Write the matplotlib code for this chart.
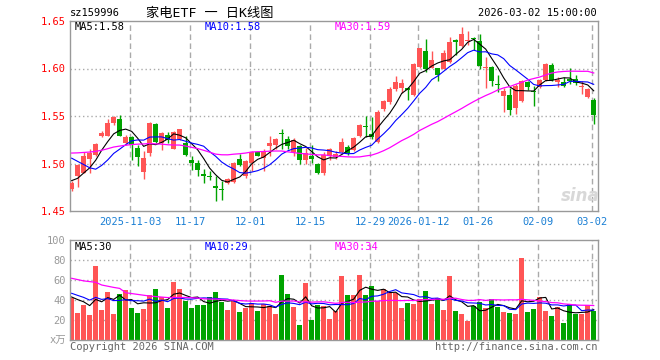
import pandas as pd
import matplotlib.pyplot as plt

# daily K-line data, 2025-10-20 .. 2026-03-02 (88 trading days)
opens = [1.473, 1.487, 1.490, 1.505, 1.509, 1.529, 1.529, 1.543, 1.547, 1.522,
         1.528, 1.516, 1.491, 1.511, 1.542, 1.522, 1.530, 1.515, 1.526, 1.522,
         1.504, 1.500, 1.489, 1.486, 1.476, 1.473, 1.480, 1.481, 1.505, 1.487,
         1.501, 1.512, 1.506, 1.518, 1.519, 1.532, 1.526, 1.512, 1.518, 1.504,
         1.508, 1.500, 1.490, 1.508, 1.507, 1.512, 1.517, 1.514, 1.529, 1.5395,
         1.531, 1.523, 1.557, 1.565, 1.578, 1.580, 1.580, 1.572, 1.602, 1.618,
         1.601, 1.600, 1.600, 1.607, 1.6295, 1.624, 1.6285, 1.6325, 1.629, 1.601,
         1.602, 1.5835, 1.571, 1.572, 1.558, 1.566, 1.586, 1.5765, 1.581, 1.588,
         1.604, 1.5855, 1.586, 1.5885, 1.589, 1.5805, 1.5705, 1.567]
closes = [1.479, 1.498, 1.508, 1.511, 1.521, 1.532, 1.543, 1.549, 1.529, 1.528,
          1.520, 1.507, 1.506, 1.543, 1.523, 1.532, 1.525, 1.533, 1.536, 1.509,
          1.501, 1.493, 1.487, 1.4855, 1.474, 1.472, 1.484, 1.501, 1.498, 1.503,
          1.512, 1.508, 1.513, 1.522, 1.526, 1.5315, 1.518, 1.525, 1.504, 1.511,
          1.505, 1.490, 1.509, 1.515, 1.510, 1.523, 1.511, 1.527, 1.541, 1.5385,
          1.528, 1.554, 1.566, 1.578, 1.586, 1.585, 1.577, 1.605, 1.622, 1.600,
          1.609, 1.593, 1.616, 1.628, 1.628, 1.636, 1.630, 1.631, 1.603, 1.602,
          1.587, 1.5825, 1.576, 1.556, 1.582, 1.587, 1.581, 1.5755, 1.588, 1.605,
          1.588, 1.588, 1.582, 1.587, 1.5845, 1.5815, 1.5785, 1.551]
highs = [1.482, 1.499, 1.512, 1.515, 1.522, 1.534, 1.547, 1.550, 1.551, 1.530,
         1.529, 1.519, 1.513, 1.544, 1.543, 1.533, 1.533, 1.534, 1.536, 1.529,
         1.508, 1.504, 1.494, 1.492, 1.487, 1.482, 1.485, 1.502, 1.510, 1.504,
         1.513, 1.513, 1.515, 1.529, 1.527, 1.536, 1.529, 1.527, 1.519, 1.516,
         1.519, 1.501, 1.512, 1.516, 1.513, 1.527, 1.519, 1.528, 1.542, 1.550,
         1.549, 1.556, 1.567, 1.581, 1.592, 1.589, 1.581, 1.606, 1.622, 1.631,
         1.618, 1.601, 1.619, 1.633, 1.631, 1.644, 1.640, 1.633, 1.636, 1.612,
         1.603, 1.593, 1.580, 1.579, 1.584, 1.588, 1.587, 1.582, 1.589, 1.606,
         1.606, 1.591, 1.591, 1.601, 1.593, 1.587, 1.580, 1.569]
lows = [1.471, 1.475, 1.490, 1.490, 1.508, 1.528, 1.529, 1.541, 1.529, 1.520,
        1.504, 1.497, 1.484, 1.508, 1.522, 1.514, 1.522, 1.515, 1.525, 1.508,
        1.493, 1.487, 1.480, 1.483, 1.461, 1.462, 1.478, 1.479, 1.497, 1.485,
        1.492, 1.508, 1.492, 1.508, 1.515, 1.515, 1.515, 1.508, 1.500, 1.500,
        1.501, 1.489, 1.488, 1.504, 1.505, 1.511, 1.509, 1.513, 1.528, 1.528,
        1.526, 1.522, 1.555, 1.563, 1.576, 1.574, 1.567, 1.571, 1.601, 1.596,
        1.601, 1.587, 1.599, 1.606, 1.614, 1.623, 1.625, 1.619, 1.600, 1.580,
        1.582, 1.575, 1.554, 1.551, 1.552, 1.565, 1.577, 1.561, 1.580, 1.587,
        1.587, 1.581, 1.581, 1.584, 1.583, 1.573, 1.569, 1.542]
volumes = [42, 27, 35, 25, 74, 30, 48, 26, 46, 50, 32, 27, 31, 45, 51, 43, 32, 58, 51, 39,
           32, 35, 35, 43, 48, 38, 30, 39, 28, 32, 37, 29, 36, 34, 26, 65, 46, 33, 15, 57,
           20, 35, 34, 21, 29, 64, 45, 45, 65, 45, 54, 39, 51, 48, 47, 32, 37, 36, 41, 49,
           36, 42, 30, 64, 29, 26, 19, 34, 38, 32, 41, 33, 28, 27, 26, 82, 28, 31, 43, 29,
           24, 33, 17, 36, 26, 26, 35, 29]

# closes / volumes of the 29 days before the window (needed for the moving averages)
prior_closes = [1.492, 1.495, 1.498, 1.500, 1.497, 1.494, 1.496, 1.499, 1.501, 1.498,
                1.496, 1.498, 1.530, 1.535, 1.540, 1.544, 1.541, 1.538, 1.540, 1.542,
                1.532, 1.541, 1.545, 1.536, 1.492, 1.486, 1.480, 1.484, 1.481]
prior_volumes = [66, 74, 46, 95, 111, 84, 62, 76, 180, 57, 52, 56, 70, 66, 58, 47, 55, 50, 40, 39,
                 48, 55, 52, 47, 50, 40, 46, 44, 43]

tick_pos = [10, 20, 30, 40, 50, 58, 68, 78, 87]
tick_labels = ['2025-11-03', '11-17', '12-01', '12-15', '12-29', '2026-01-12', '01-26', '02-09', '03-02']

RED = '#ff5555'
GREEN = '#00a300'
GRID = '#aaaaaa'
MONO = 'DejaVu Sans Mono'
n = len(closes)
x = list(range(n))

c_all = pd.Series(prior_closes + closes)
v_all = pd.Series(prior_volumes + volumes)
ma = {}
vma = {}
for w in [5, 10, 30]:
    ma[w] = c_all.rolling(w).mean().values[-n:]
    vma[w] = v_all.rolling(w).mean().values[-n:]

W, H = 660, 360
fig = plt.figure(figsize=(6.6, 3.6), dpi=100)

def fx(px):
    return px / W

def fy(py):
    return 1 - py / H

ax1 = fig.add_axes([fx(70), fy(211), (597.5 - 70) / W, 190 / H])
ax2 = fig.add_axes([fx(70), fy(340), (597.5 - 70) / W, 100 / H])

for ax in [ax1, ax2]:
    ax.set_xlim(-0.28, 87.63)
    for s in ax.spines.values():
        s.set_color('#999999')
        s.set_linewidth(1)
    for p in tick_pos:
        ax.axvline(p - 0.27, color=GRID, lw=1, dashes=(4, 2.5), zorder=0)

# candles
for i in range(n):
    o, c, h, l = opens[i], closes[i], highs[i], lows[i]
    col = RED if c >= o else GREEN
    ax1.vlines(i, l, h, color=col, lw=1, zorder=2)
    ax1.bar(i, max(abs(c - o), 0.0011), bottom=min(o, c), width=0.8, color=col, zorder=3)

ax1.plot(x, ma[5], color='black', lw=0.8, zorder=4)
ax1.plot(x, ma[10], color='#0000ff', lw=0.8, zorder=4)
ax1.plot(x, ma[30], color='#ff00ff', lw=0.9, zorder=4)

ax1.set_ylim(1.45, 1.65)
ax1.set_yticks([1.45, 1.50, 1.55, 1.60, 1.65])
ax1.set_yticklabels(['%.2f' % v for v in [1.45, 1.50, 1.55, 1.60, 1.65]], color='red', family=MONO, fontsize=7.5)
for v in [1.50, 1.55, 1.60]:
    ax1.axhline(v, color=GRID, lw=1, dashes=(1, 2), zorder=0)
ax1.set_xticks([p - 0.27 for p in tick_pos])
ax1.set_xticklabels(tick_labels, color='#1a7fd4', family=MONO, fontsize=7.5)
ax1.tick_params(length=0, pad=3)
ax1.tick_params(axis='x', pad=4)

# volume
vcols = [RED if closes[i] >= opens[i] else GREEN for i in range(n)]
ax2.bar(x, volumes, width=0.82, color=vcols, zorder=2)
ax2.plot(x, vma[5], color='black', lw=0.8, zorder=4)
ax2.plot(x, vma[10], color='#0000ff', lw=0.8, zorder=4)
ax2.plot(x, vma[30], color='#ff00ff', lw=0.9, zorder=4)
ax2.set_ylim(0, 100)
ax2.set_yticks([0, 20, 40, 60, 80, 100])
ax2.set_yticklabels(['x万', '20', '40', '60', '80', '100'], color='#999999', fontsize=7.5)
for lbl in ax2.get_yticklabels():
    lbl.set_family([MONO, 'Noto Sans CJK SC'])
for v in [20, 40, 60, 80]:
    ax2.axhline(v, color=GRID, lw=1, dashes=(1, 2), zorder=0)
ax2.set_xticks([])
ax2.tick_params(length=0, pad=3)

# texts
fig.text(fx(70), fy(13), 'sz159996', family=MONO, fontsize=7.5, va='center')
fig.text(fx(210), fy(13), '家电ETF 一 日K线图', family=[MONO, 'Noto Sans CJK SC'], fontsize=9.5,
         va='center', ha='center')
fig.text(fx(597), fy(13), '2026-03-02 15:00:00', family=MONO, fontsize=7.5, va='center', ha='right')

fig.text(fx(75), fy(27), 'MA5:1.58', family=MONO, fontsize=7.5, va='center', color='black')
fig.text(fx(205), fy(27), 'MA10:1.58', family=MONO, fontsize=7.5, va='center', color='#0000ff')
fig.text(fx(335), fy(27), 'MA30:1.59', family=MONO, fontsize=7.5, va='center', color='#ff00ff')
fig.text(fx(75), fy(247), 'MA5:30', family=MONO, fontsize=7.5, va='center', color='black')
fig.text(fx(205), fy(247), 'MA10:29', family=MONO, fontsize=7.5, va='center', color='#0000ff')
fig.text(fx(335), fy(247), 'MA30:34', family=MONO, fontsize=7.5, va='center', color='#ff00ff')

fig.text(fx(70), fy(347), 'Copyright 2026 SINA.COM', family=MONO, fontsize=7.5, va='center', color='#666666')
fig.text(fx(597), fy(347), 'http://finance.sina.com.cn', family=MONO, fontsize=7.5, va='center',
         ha='right', color='#666666')

# faint watermark
fig.text(fx(580), fy(196), 'sina', fontsize=12, fontweight='bold', style='italic', color='#d8d8d8',
         ha='center', va='center')

fig.savefig('out.png', dpi=100)
